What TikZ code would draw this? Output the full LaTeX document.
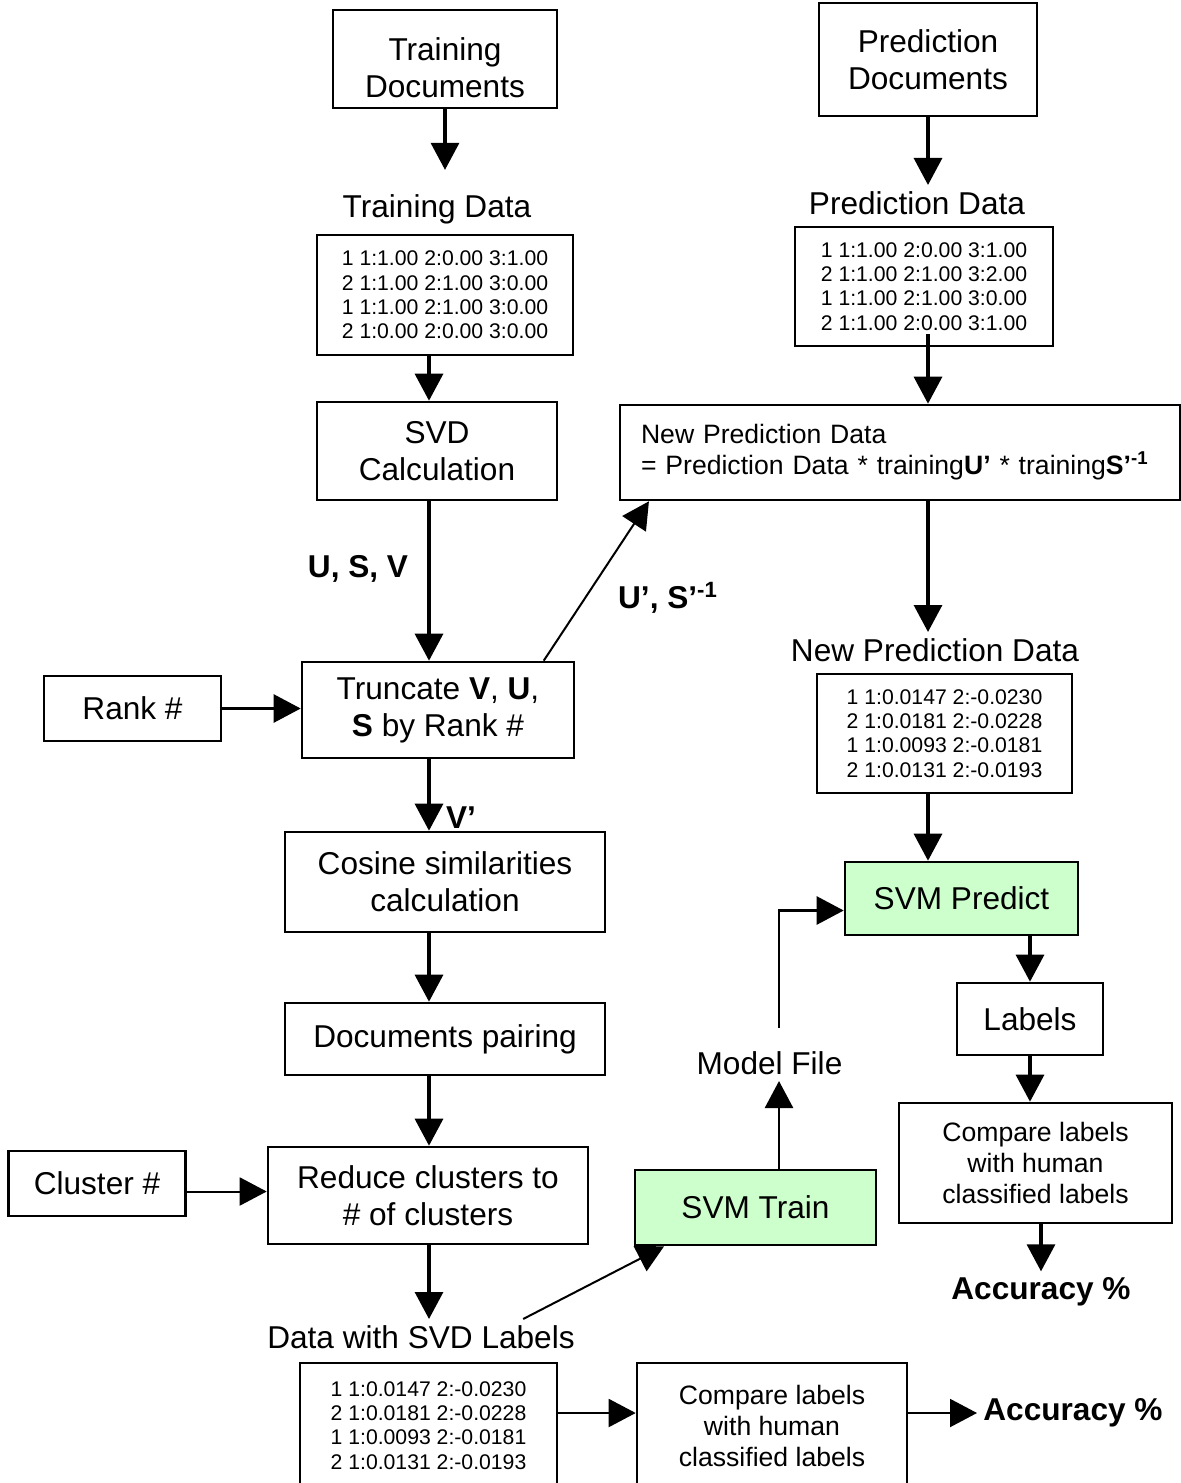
\documentclass[tikz,border=0pt]{standalone}
\usepackage{fontspec}
\setmainfont{Liberation Sans}
\usetikzlibrary{arrows.meta}
\definecolor{svmgreen}{RGB}{204,255,204}
\newcommand{\bigfont}{\fontsize{15.8}{18.5}\selectfont}
\newcommand{\midfont}{\fontsize{13.3}{15.5}\selectfont}
\newcommand{\datafont}{\fontsize{10.6}{12.15}\selectfont}
\tikzset{
  box/.style={draw, line width=1.3pt, align=center, inner sep=0pt, font=\bigfont},
  databox/.style={box, font=\datafont},
  notebox/.style={box, font=\midfont},
  svmbox/.style={box, fill=svmgreen},
  lbl/.style={inner sep=3pt, font=\bigfont},
  boldlbl/.style={inner sep=3pt, font=\bigfont\bfseries},
  arr/.style={-{Triangle[width=14pt,length=13.5pt]}, line width=1.6pt},
  thinarr/.style={-{Triangle[width=14pt,length=13.5pt]}, line width=1pt}
}

\begin{document}
\begin{tikzpicture}[x=0.5pt, y=-0.5pt]
\useasboundingbox (0,0) rectangle (1181,1483);
\coordinate (lspine) at (429,0);
\coordinate (rspine) at (928,0);
\coordinate (mfspine) at (779,0);

\node[box, minimum width=112pt, minimum height=49pt, text height=38.5pt] (traindocs) at (445,59) {Training\\Documents};
\node[lbl] (trainlbl) at (437,209) {Training Data};
\node[databox, minimum width=128pt, minimum height=60pt] (traindata) at (445,295) {1 1:1.00 2:0.00 3:1.00\\2 1:1.00 2:1.00 3:0.00\\1 1:1.00 2:1.00 3:0.00\\2 1:0.00 2:0.00 3:0.00};
\node[box, minimum width=120pt, minimum height=49pt] (svd) at (437,451) {SVD\\Calculation};
\node[box, minimum width=136pt, minimum height=48pt] (trunc) at (438,710) {Truncate \textbf{V}, \textbf{U},\\\textbf{S} by Rank \#};
\node[box, minimum width=88.5pt, minimum height=32.5pt] (rank) at (132.5,708.5) {Rank \#};
\node[box, minimum width=160pt, minimum height=50pt] (cosine) at (445,882) {Cosine similarities\\calculation};
\node[box, minimum width=160pt, minimum height=36pt] (pairing) at (445,1039) {Documents pairing};
\node[box, minimum width=160pt, minimum height=48.5pt] (reduce) at (428,1195.5) {Reduce clusters to\\\# of clusters};
\node[box, minimum width=88.5pt, minimum height=32.5pt] (cluster) at (97,1183.5) {Cluster \#};
\node[lbl] (svdlbl) at (421,1337) {Data with SVD Labels};
\node[databox, minimum width=128.5pt, minimum height=62.5pt] (svddata) at (428.5,1425.5) {1 1:0.0147 2:-0.0230\\2 1:0.0181 2:-0.0228\\1 1:0.0093 2:-0.0181\\2 1:0.0131 2:-0.0193};
\node[notebox, minimum width=135pt, minimum height=62.5pt] (cmpleft) at (772,1425.5) {Compare labels\\with human\\classified labels};
\node[boldlbl] (accleft) at (1073,1413) {Accuracy \%};

\node[box, minimum width=109pt, minimum height=56.5pt] (preddocs) at (928,59.5) {Prediction\\Documents};
\node[lbl] (predlbl) at (917,203) {Prediction Data};
\node[databox, minimum width=129pt, minimum height=59.5pt] (preddata) at (924,286.5) {1 1:1.00 2:0.00 3:1.00\\2 1:1.00 2:1.00 3:2.00\\1 1:1.00 2:1.00 3:0.00\\2 1:1.00 2:0.00 3:1.00};
\node[notebox, align=left, text width=259pt, inner xsep=10.5pt, minimum height=47.5pt] (newpred) at (900,452.5) {New Prediction Data\\= Prediction Data * training\textbf{U’} * training\textbf{S’}\textsuperscript{\textbf{-1}}};
\node[lbl] (newpredlbl) at (935,650) {New Prediction Data};
\node[databox, minimum width=127.5pt, minimum height=59.5pt] (newdata) at (944.5,733.5) {1 1:0.0147 2:-0.0230\\2 1:0.0181 2:-0.0228\\1 1:0.0093 2:-0.0181\\2 1:0.0131 2:-0.0193};
\node[svmbox, minimum width=116.5pt, minimum height=36.5pt] (predict) at (961.5,898.5) {SVM Predict};
\node[box, minimum width=73pt, minimum height=36pt] (labels) at (1030,1019) {Labels};
\node[notebox, minimum width=136.5pt, minimum height=60pt] (cmpright) at (1035.5,1163) {Compare labels\\with human\\classified labels};
\node[boldlbl] (accright) at (1041,1292) {Accuracy \%};
\node[svmbox, minimum width=120.5pt, minimum height=37.5pt] (train) at (755.5,1207.5) {SVM Train};
\node[lbl] (model) at (769.5,1063) {Model File};

\node[boldlbl] (usv) at (358,569) {U, S, V};
\node[boldlbl] (usinv) at (668,598) {U’, S’\textsuperscript{-1}};
\node[boldlbl] (vprime) at (461,818) {V’};

\draw[arr, shorten >=9pt] (traindocs.south) -- (traindocs.south |- trainlbl.north);
\draw[arr] (traindata.south -| lspine) -- (svd.north -| lspine);
\draw[arr] (svd.south -| lspine) -- (trunc.north -| lspine);
\draw[arr, line width=1.3pt] (rank.east) -- (trunc.west |- rank.east);
\draw[arr] (trunc.south -| lspine) -- (cosine.north -| lspine);
\draw[arr] (cosine.south -| lspine) -- (pairing.north -| lspine);
\draw[arr] (pairing.south -| lspine) -- (reduce.north -| lspine);
\draw[thinarr] ([yshift=-4pt]cluster.east) -- ([yshift=-4pt]cluster.east -| reduce.west);
\draw[arr] (reduce.south -| lspine) -- (svdlbl.north -| lspine);
\draw[thinarr] (trunc.25) -- (newpred.191);
\draw[thinarr] (svdlbl.10) -- (train.203);
\draw[thinarr] (svddata.east |- accleft) -- (cmpleft.west |- accleft);
\draw[thinarr] (cmpleft.east |- accleft) -- (accleft.west);

\draw[arr] (preddocs.south) -- (predlbl.north -| preddocs);
\draw[arr, shorten <=-6.5pt] (preddata.south -| rspine) -- (newpred.north -| rspine);
\draw[arr] (newpred.south -| rspine) -- (newpredlbl.north -| rspine);
\draw[arr] (newdata.south -| rspine) -- (predict.north -| rspine);
\draw[arr] (predict.south -| labels) -- (labels.north);
\draw[arr] (labels.south) -- (cmpright.north -| labels);
\draw[arr] (cmpright.south -| accright) -- (accright.north);
\draw[thinarr, line width=1.3pt] (train.north -| mfspine) -- (model.south -| mfspine);
\draw[thinarr, line width=1.3pt, shorten <=8.5pt] (model.north -| mfspine) |- ([yshift=-6pt]predict.west);
\end{tikzpicture}
\end{document}
